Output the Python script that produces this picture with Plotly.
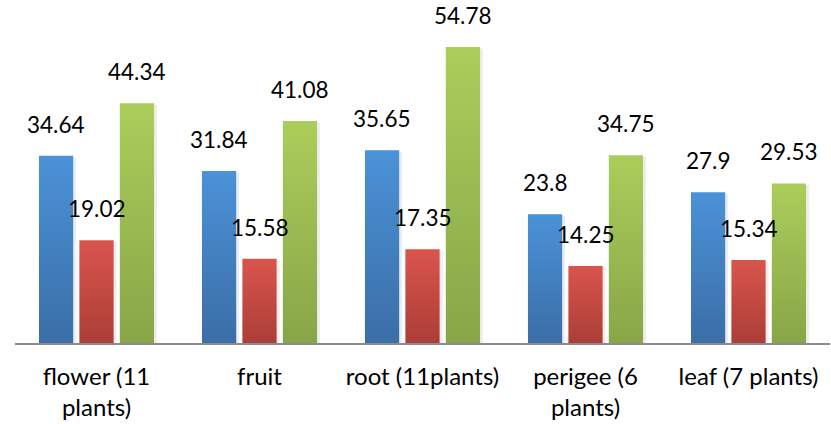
import plotly.graph_objects as go

categories = ["flower (11<br>plants)", "fruit", "root (11plants)", "perigee (6<br>plants)", "leaf (7 plants)"]
series_a = [34.64, 31.84, 35.65, 23.8, 27.9]
series_b = [19.02, 15.58, 17.35, 14.25, 15.34]
series_c = [44.34, 41.08, 54.78, 34.75, 29.53]

series = [
    (series_a, "#3a6ea6", "#4b92d8"),
    (series_b, "#ab3e37", "#d9554c"),
    (series_c, "#88a647", "#abcd5b"),
]

pitch = 0.248      # distance between neighbouring bars, in category units
half_w = 0.105     # half of a bar's width

fig = go.Figure()
for k, (vals, dark, light) in enumerate(series):
    off = (k - 1) * pitch
    for i, v in enumerate(vals):
        x0, x1 = i + off - half_w, i + off + half_w
        # soft shadow on the right
        fig.add_trace(go.Scatter(
            x=[x0 + 0.012, x0 + 0.012, x1 + 0.018, x1 + 0.018, x0 + 0.012],
            y=[0, v - 0.3, v - 0.3, 0, 0],
            fill="toself", mode="none", fillcolor="rgba(0,0,0,0.07)",
            hoverinfo="skip", showlegend=False))
        fig.add_trace(go.Scatter(
            x=[x0, x0, x1, x1, x0], y=[0, v, v, 0, 0],
            fill="toself", mode="none",
            fillgradient=dict(type="vertical", start=0, stop=v,
                              colorscale=[[0, dark], [1, light]]),
            hoverinfo="skip", showlegend=False))
        fig.add_annotation(x=i + off, y=v, text=str(v), showarrow=False,
                           yanchor="bottom", yshift=16,
                           font=dict(family="Lato", size=22.5, color="#000"))

base_px = 343
top_margin = 0
scale = 5.405
fig.update_layout(
    width=831, height=424,
    margin=dict(l=15, r=1, t=top_margin, b=424 - base_px),
    plot_bgcolor="white", paper_bgcolor="white",
    showlegend=False,
    xaxis=dict(range=[-0.5, 4.5], tickmode="array", tickvals=list(range(5)),
               ticktext=categories, showgrid=False, zeroline=False,
               showline=True, linecolor="#8c8c8c", linewidth=2,
               ticks="", ticklabelstandoff=11,
               tickfont=dict(family="Lato", size=24, color="#000")),
    yaxis=dict(range=[0, (base_px - top_margin) / scale], visible=False,
               showgrid=False, zeroline=False),
)

fig.write_html("out.html")
